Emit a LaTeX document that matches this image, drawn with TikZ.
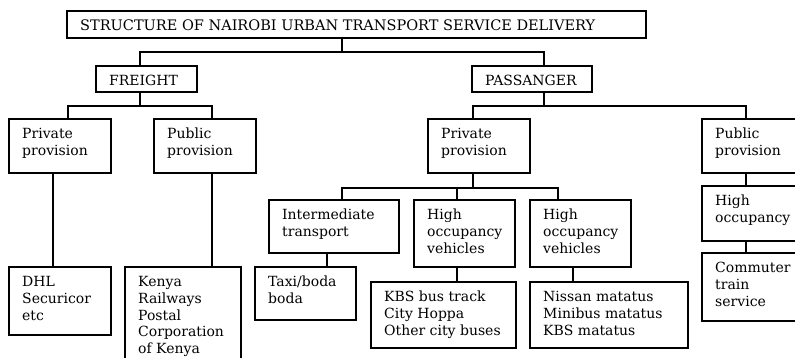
\documentclass[tikz,border=0pt]{standalone}
\usepackage{fontspec}
\setmainfont{DejaVu Serif}
\begin{document}
\begin{tikzpicture}[x=1pt,y=-1pt,
  boxst/.style={draw, line width=1.9pt, rectangle, inner sep=0pt, outer sep=0pt},
  txt/.style={inner sep=0pt, align=left, font=\fontsize{14}{16.8}\selectfont},
  ln/.style={line width=1.9pt, line cap=rect}]
\useasboundingbox (0,0) rectangle (795,358);
\clip (0,0) rectangle (795,358);
\newcommand\bx[6]{%
  \node[boxst, minimum width=#4-#2, minimum height=#5-#3, anchor=north west] (#1) at (#2,#3) {};
  \node[txt, anchor=north west] at ([xshift=13pt,yshift=-9pt]#1.north west) {#6};}
\newcommand\busline[7]{% parent, px, busy, xmin, xmax, list child/x
  \coordinate (tp) at (#2,#3);
  \draw[ln] (tp |- #1.south) -- (tp);
  \draw[ln] (#4,#3) -- (#5,#3);
  \foreach \c/\x in {#6} {\coordinate (tc) at (\x,#3); \draw[ln] (tc) -- (tc |- \c.north);}}
\newcommand\stem[3]{% from, to, x
  \coordinate (ts) at (#3,0);
  \draw[ln] (ts |- #1.south) -- (ts |- #2.north);}
% boxes
\bx{title}{67}{11}{646}{38}{\fontsize{14.5}{16.8}\selectfont STRUCTURE OF NAIROBI URBAN TRANSPORT SERVICE DELIVERY}
\bx{frt}{96}{66}{197}{92}{FREIGHT}
\bx{pas}{472}{66}{592}{92}{PASSANGER}
\bx{fpri}{9}{119}{111}{173}{Private\\provision}
\bx{fpub}{154}{119}{256}{173}{Public\\provision}
\bx{ppri}{428}{119}{530}{173}{Private\\provision}
\bx{ppub}{702}{119}{800}{173}{Public\\provision}
\bx{dhl}{9}{267}{111}{335}{DHL\\Securicor\\etc}
\bx{ken}{125}{267}{241}{372}{Kenya\\Railways\\Postal\\Corporation\\of Kenya}
\bx{inter}{269}{200}{399}{253}{Intermediate\\transport}
\bx{hov1}{414}{200}{515}{267}{High\\occupancy\\vehicles}
\bx{hov2}{530}{200}{631}{267}{High\\occupancy\\vehicles}
\bx{taxi}{255}{267}{356}{320}{Taxi/boda\\boda}
\bx{kbs}{371}{282}{516}{348}{KBS bus track\\City Hoppa\\Other city buses}
\bx{nis}{530}{282}{688}{348}{Nissan matatus\\Minibus matatus\\KBS matatus}
\bx{hocc}{702}{186}{800}{241}{High\\occupancy}
\bx{comm}{702}{253}{800}{321}{Commuter\\train\\service}
% connectors
\busline{title}{342}{52}{140}{544}{frt/140,pas/544}{}
\busline{frt}{140}{106}{68}{212}{fpri/68,fpub/212}{}
\busline{pas}{544}{106}{473}{746}{ppri/473,ppub/746}{}
\busline{ppri}{473}{188}{342}{558}{inter/342,hov1/457,hov2/558}{}
\stem{fpri}{dhl}{53}
\stem{fpub}{ken}{212}
\stem{inter}{taxi}{327}
\stem{hov1}{kbs}{457}
\stem{hov2}{nis}{573}
\stem{ppub}{hocc}{746}
\stem{hocc}{comm}{746}
\end{tikzpicture}
\end{document}
